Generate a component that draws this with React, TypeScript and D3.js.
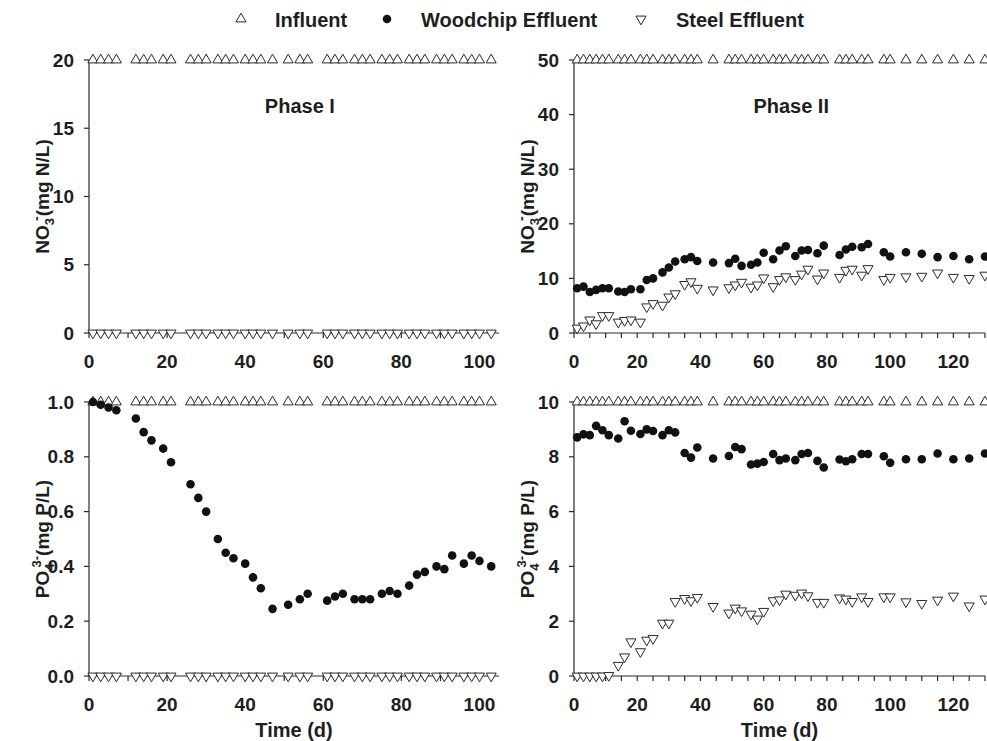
import React, { useEffect } from "react";
import * as d3 from "d3";

// ---------- DATA ----------
const daysPhase1 = [1, 3, 5, 7, 12, 14, 16, 19, 21, 26, 28, 30, 33, 35, 37, 40, 42, 44, 47, 51, 54, 56, 61, 63, 65, 68, 70, 72, 75, 77, 79, 82, 84, 86, 89, 91, 93, 96, 98, 100, 103];
const influentNO3Phase1 = [20, 20, 20, 20, 20, 20, 20, 20, 20, 20, 20, 20, 20, 20, 20, 20, 20, 20, 20, 20, 20, 20, 20, 20, 20, 20, 20, 20, 20, 20, 20, 20, 20, 20, 20, 20, 20, 20, 20, 20, 20];
const steelNO3Phase1 = [0, 0, 0, 0, 0, 0, 0, 0, 0, 0, 0, 0, 0, 0, 0, 0, 0, 0, 0, 0, 0, 0, 0, 0, 0, 0, 0, 0, 0, 0, 0, 0, 0, 0, 0, 0, 0, 0, 0, 0, 0];
const influentPO4Phase1 = [1, 1, 1, 1, 1, 1, 1, 1, 1, 1, 1, 1, 1, 1, 1, 1, 1, 1, 1, 1, 1, 1, 1, 1, 1, 1, 1, 1, 1, 1, 1, 1, 1, 1, 1, 1, 1, 1, 1, 1, 1];
const woodchipPO4Phase1 = [1.0, 0.99, 0.98, 0.97, 0.94, 0.89, 0.86, 0.83, 0.78, 0.7, 0.65, 0.6, 0.5, 0.45, 0.43, 0.41, 0.36, 0.32, 0.245, 0.26, 0.28, 0.3, 0.275, 0.29, 0.3, 0.28, 0.28, 0.28, 0.3, 0.31, 0.3, 0.33, 0.37, 0.38, 0.4, 0.39, 0.44, 0.41, 0.44, 0.42, 0.4];
const steelPO4Phase1 = [0, 0, 0, 0, 0, 0, 0, 0, 0, 0, 0, 0, 0, 0, 0, 0, 0, 0, 0, 0, 0, 0, 0, 0, 0, 0, 0, 0, 0, 0, 0, 0, 0, 0, 0, 0, 0, 0, 0, 0, 0];

const daysPhase2 = [1, 3, 5, 7, 9, 11, 14, 16, 18, 21, 23, 25, 28, 30, 32, 35, 37, 39, 44, 49, 51, 53, 56, 58, 60, 63, 65, 67, 70, 72, 74, 77, 79, 84, 86, 88, 91, 93, 98, 100, 105, 110, 115, 120, 125, 130];
const influentNO3Phase2 = [50, 50, 50, 50, 50, 50, 50, 50, 50, 50, 50, 50, 50, 50, 50, 50, 50, 50, 50, 50, 50, 50, 50, 50, 50, 50, 50, 50, 50, 50, 50, 50, 50, 50, 50, 50, 50, 50, 50, 50, 50, 50, 50, 50, 50, 50];
const woodchipNO3Phase2 = [8.2, 8.5, 7.5, 7.9, 8.2, 8.2, 7.6, 7.5, 8.0, 8.0, 9.7, 10.0, 11.1, 12.0, 13.1, 13.5, 13.9, 13.2, 12.9, 12.8, 13.6, 12.3, 12.5, 12.9, 14.7, 13.5, 15.1, 15.9, 14.1, 15.1, 15.2, 14.6, 16.0, 14.3, 15.3, 15.8, 15.7, 16.3, 14.8, 14.0, 14.8, 14.5, 13.9, 14.1, 13.5, 14.0];
const steelNO3Phase2 = [0.9, 1.3, 2.4, 1.7, 3.2, 3.2, 2.0, 2.3, 2.4, 2.0, 4.8, 5.4, 5.1, 6.6, 7.2, 8.9, 9.4, 8.2, 7.9, 8.3, 8.8, 9.3, 8.4, 8.8, 10.1, 8.5, 9.8, 10.3, 9.8, 10.8, 11.7, 9.9, 11.0, 10.2, 11.5, 11.7, 10.6, 11.8, 9.8, 10.2, 10.3, 10.4, 11.0, 10.2, 10.0, 10.6];
const influentPO4Phase2 = [10, 10, 10, 10, 10, 10, 10, 10, 10, 10, 10, 10, 10, 10, 10, 10, 10, 10, 10, 10, 10, 10, 10, 10, 10, 10, 10, 10, 10, 10, 10, 10, 10, 10, 10, 10, 10, 10, 10, 10, 10, 10, 10, 10, 10, 10];
const woodchipPO4Phase2 = [8.71, 8.82, 8.79, 9.13, 8.97, 8.79, 8.67, 9.3, 8.95, 8.83, 9.0, 8.94, 8.79, 8.97, 8.89, 8.14, 7.97, 8.34, 7.94, 8.03, 8.36, 8.28, 7.72, 7.75, 7.81, 8.1, 7.88, 7.94, 7.88, 8.1, 8.14, 7.85, 7.61, 7.9, 7.84, 7.91, 8.1, 8.1, 8.02, 7.78, 7.91, 7.91, 8.12, 7.91, 7.94, 8.12];
const steelPO4Phase2 = [0, 0, 0, 0, 0, 0.02, 0.39, 0.7, 1.25, 0.89, 1.31, 1.37, 1.93, 1.93, 2.72, 2.83, 2.75, 2.87, 2.54, 2.3, 2.48, 2.38, 2.26, 2.08, 2.36, 2.75, 2.78, 2.99, 2.95, 3.03, 2.93, 2.69, 2.69, 2.85, 2.81, 2.72, 2.89, 2.72, 2.89, 2.89, 2.71, 2.65, 2.77, 2.92, 2.56, 2.81];

const legendLabels = ["Influent", "Woodchip Effluent", "Steel Effluent"];
const xTicksPhase1 = [0, 20, 40, 60, 80, 100];
const xTicksPhase2 = [0, 20, 40, 60, 80, 100, 120];
const yTicksNO3Phase1 = [0, 5, 10, 15, 20];
const yTicksNO3Phase2 = [0, 10, 20, 30, 40, 50];
const yTicksPO4Phase1 = [0, 0.2, 0.4, 0.6, 0.8, 1.0];
const yTicksPO4Phase2 = [0, 2, 4, 6, 8, 10];
const phaseLabels = ["Phase I", "Phase II"];

// ---------- STYLE ----------
const W = 987;
const H = 741;
const FONT = "'Liberation Sans', Arial, Helvetica, sans-serif";
const INK = "#1e1e1e";
const LINE = "#2a2a2a";

const triUp = d3.symbol().type(d3.symbolTriangle).size(44)() as string;
const circlePath = d3.symbol().type(d3.symbolCircle).size(58)() as string;

type Series = { kind: "up" | "down" | "dot"; x: number[]; y: number[] };

function Marker({ kind, x, y }: { kind: string; x: number; y: number }) {
  if (kind === "dot") return <path d={circlePath} transform={`translate(${x},${y})`} fill="#111" />;
  return (
    <path
      d={triUp}
      transform={`translate(${x},${y})${kind === "down" ? " rotate(180)" : ""}`}
      fill="#fff"
      stroke={LINE}
      strokeWidth={1}
    />
  );
}

function Panel({
  xs,
  ys,
  xTicks,
  xMinorStep,
  yTicks,
  yFmt,
  series,
  yTitle,
  showXTitle,
  phase,
  phaseX,
}: {
  xs: d3.ScaleLinear<number, number>;
  ys: d3.ScaleLinear<number, number>;
  xTicks: number[];
  xMinorStep: number;
  yTicks: number[];
  yFmt: (v: number) => string;
  series: Series[];
  yTitle: React.ReactNode;
  showXTitle: boolean;
  phase?: string;
  phaseX?: number;
}) {
  const [x0, x1] = xs.range();
  const [yb, yt] = ys.range();
  const xd = xs.domain();
  const minor = d3.range(xd[0], xd[1] + 0.001, xMinorStep);
  return (
    <g>
      {/* axes */}
      <line x1={x0} x2={x0} y1={yt} y2={yb} stroke={LINE} strokeWidth={1.2} />
      <line x1={x0} x2={x1} y1={yb} y2={yb} stroke={LINE} strokeWidth={1.2} />
      {yTicks.map((t) => (
        <g key={"y" + t}>
          <line x1={x0 - 5} x2={x0} y1={ys(t)} y2={ys(t)} stroke={LINE} strokeWidth={1.2} />
          <text x={x0 - 15} y={ys(t) + 6.5} textAnchor="end" fontSize={19} fontWeight="bold" fill={INK}>
            {yFmt(t)}
          </text>
        </g>
      ))}
      {minor.map((t) => (
        <line key={"xm" + t} x1={xs(t)} x2={xs(t)} y1={yb} y2={yb + 5} stroke={LINE} strokeWidth={1.2} />
      ))}
      {xTicks.map((t) => (
        <text key={"x" + t} x={xs(t)} y={yb + 35} textAnchor="middle" fontSize={19} fontWeight="bold" fill={INK}>
          {t}
        </text>
      ))}
      {showXTitle && (
        <text x={(x0 + x1) / 2} y={yb + 61} textAnchor="middle" fontSize={20} fontWeight="bold" fill={INK}>
          Time (d)
        </text>
      )}
      <text
        transform={`translate(${x0 - 40},${(yt + yb) / 2}) rotate(-90)`}
        textAnchor="middle"
        fontSize={19}
        fontWeight="bold"
        fill={INK}
      >
        {yTitle}
      </text>
      {phase && phaseX !== undefined && (
        <text x={phaseX} y={yt + 53} textAnchor="middle" fontSize={20} fontWeight="bold" fill={INK}>
          {phase}
        </text>
      )}
      {/* data */}
      {series.map((s, si) =>
        s.x.map((xv, i) => <Marker key={si + "-" + i} kind={s.kind} x={xs(xv)} y={ys(s.y[i])} />)
      )}
    </g>
  );
}

const no3Title = (
  <>
    <tspan>NO</tspan>
    <tspan fontSize={13} dy={5}>3</tspan>
    <tspan fontSize={14} dx={-3} dy={-13}>-</tspan>
    <tspan dy={8}>(mg N/L)</tspan>
  </>
);
const po4Title = (
  <>
    <tspan>PO</tspan>
    <tspan fontSize={13} dy={5}>4</tspan>
    <tspan fontSize={13} dx={-4} dy={-13}>3-</tspan>
    <tspan dy={8}>(mg P/L)</tspan>
  </>
);

export default function App() {
  useEffect(() => {
    document.body.style.margin = "0";
  }, []);

  const xL = d3.scaleLinear().domain([0, 105]).range([89, 499]);
  const xR = d3.scaleLinear().domain([0, 130]).range([574, 985]);
  const yNO3L = d3.scaleLinear().domain([0, 20]).range([333, 60]);
  const yNO3R = d3.scaleLinear().domain([0, 50]).range([333, 60]);
  const yPO4L = d3.scaleLinear().domain([0, 1]).range([676, 402]);
  const yPO4R = d3.scaleLinear().domain([0, 10]).range([676, 402]);

  const legendItems = [
    { kind: "up", x: 241, tx: 275 },
    { kind: "dot", x: 387, tx: 421 },
    { kind: "down", x: 641, tx: 676 },
  ];

  return (
    <svg width={W} height={H} style={{ display: "block", fontFamily: FONT, background: "#fff" }}>
      <rect width={W} height={H} fill="#fff" />
      {/* legend */}
      {legendItems.map((it, i) => (
        <g key={i}>
          <Marker kind={it.kind} x={it.x} y={19} />
          <text x={it.tx} y={27} fontSize={20} fontWeight="bold" fill={INK}>
            {legendLabels[i]}
          </text>
        </g>
      ))}

      <Panel
        xs={xL}
        ys={yNO3L}
        xTicks={xTicksPhase1}
        xMinorStep={10}
        yTicks={yTicksNO3Phase1}
        yFmt={(v) => String(v)}
        yTitle={no3Title}
        showXTitle={false}
        phase={phaseLabels[0]}
        phaseX={xL(54)}
        series={[
          { kind: "up", x: daysPhase1, y: influentNO3Phase1 },
          { kind: "down", x: daysPhase1, y: steelNO3Phase1 },
        ]}
      />
      <Panel
        xs={xR}
        ys={yNO3R}
        xTicks={xTicksPhase2}
        xMinorStep={5}
        yTicks={yTicksNO3Phase2}
        yFmt={(v) => String(v)}
        yTitle={no3Title}
        showXTitle={false}
        phase={phaseLabels[1]}
        phaseX={xR(68.7)}
        series={[
          { kind: "up", x: daysPhase2, y: influentNO3Phase2 },
          { kind: "dot", x: daysPhase2, y: woodchipNO3Phase2 },
          { kind: "down", x: daysPhase2, y: steelNO3Phase2 },
        ]}
      />
      <Panel
        xs={xL}
        ys={yPO4L}
        xTicks={xTicksPhase1}
        xMinorStep={10}
        yTicks={yTicksPO4Phase1}
        yFmt={d3.format(".1f")}
        yTitle={po4Title}
        showXTitle={true}
        series={[
          { kind: "up", x: daysPhase1, y: influentPO4Phase1 },
          { kind: "down", x: daysPhase1, y: steelPO4Phase1 },
          { kind: "dot", x: daysPhase1, y: woodchipPO4Phase1 },
        ]}
      />
      <Panel
        xs={xR}
        ys={yPO4R}
        xTicks={xTicksPhase2}
        xMinorStep={5}
        yTicks={yTicksPO4Phase2}
        yFmt={(v) => String(v)}
        yTitle={po4Title}
        showXTitle={true}
        series={[
          { kind: "up", x: daysPhase2, y: influentPO4Phase2 },
          { kind: "dot", x: daysPhase2, y: woodchipPO4Phase2 },
          { kind: "down", x: daysPhase2, y: steelPO4Phase2 },
        ]}
      />
    </svg>
  );
}
